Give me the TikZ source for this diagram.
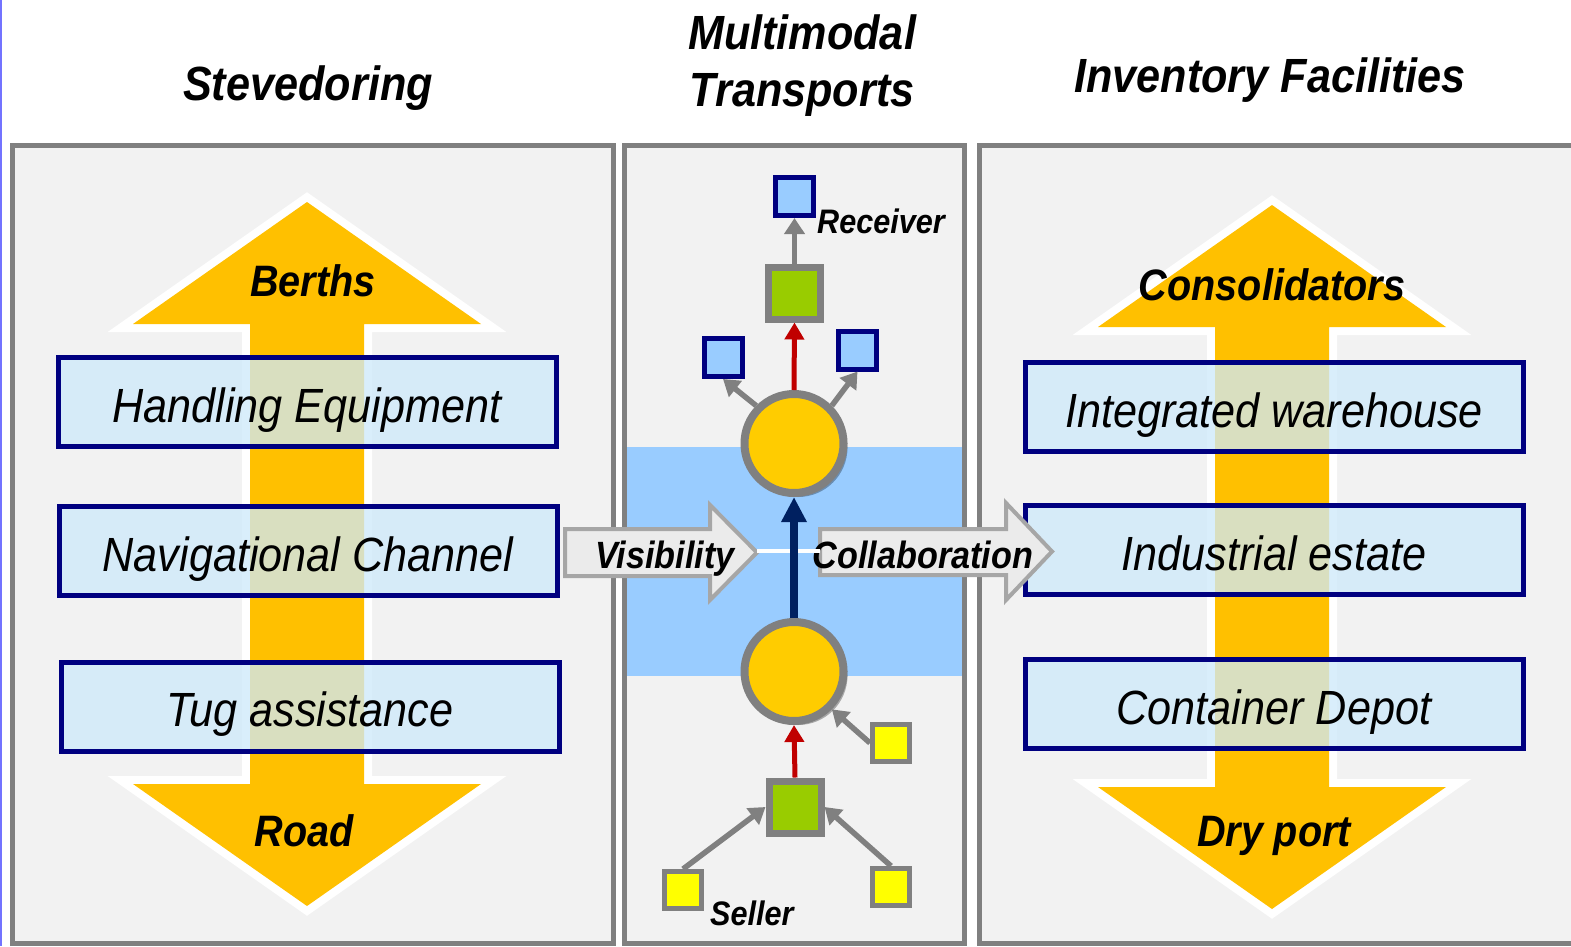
\documentclass[tikz,border=0pt]{standalone}
\usepackage{fontspec}
\newfontfamily\narrowsans{Liberation Sans}[FakeStretch=0.9]
\usetikzlibrary{arrows.meta, positioning, shadows}

\definecolor{panelfill}{HTML}{F2F2F2}
\definecolor{panelline}{HTML}{808080}
\definecolor{gold}{HTML}{FFC000}
\definecolor{discfill}{HTML}{FFCC00}
\definecolor{boxblue}{RGB}{206,233,250}
\definecolor{boxline}{HTML}{000080}
\definecolor{band}{HTML}{99CCFF}
\definecolor{leaf}{HTML}{99CC00}
\definecolor{lemon}{HTML}{FFFF00}
\definecolor{darkred}{HTML}{C00000}
\definecolor{deepnavy}{HTML}{002060}
\definecolor{flowfill}{HTML}{EBEBEB}
\definecolor{flowline}{HTML}{A6A6A6}

\begin{document}
\begin{tikzpicture}[
  x=1pt, y=-1pt,
  panel/.style={draw=panelline, line width=5pt, fill=panelfill},
  title/.style={font=\narrowsans\bfseries\itshape\fontsize{48}{57}\selectfont, anchor=base, align=center},
  tag/.style={font=\narrowsans\bfseries\itshape\fontsize{44}{50}\selectfont, anchor=base},
  note/.style={font=\narrowsans\bfseries\itshape\fontsize{34}{40}\selectfont, anchor=base west, inner sep=0pt},
  item/.style={draw=boxline, line width=5pt, fill=boxblue, fill opacity=0.77, text opacity=1, minimum width=498pt, minimum height=89pt, text height=40pt, text depth=0pt, inner sep=0pt, font=\narrowsans\itshape\fontsize{48}{54}\selectfont},
  hub/.style={circle, draw=panelline, line width=8pt, fill=discfill, minimum size=99pt, inner sep=0pt, drop shadow={opacity=0.3, shadow xshift=4pt, shadow yshift=-4pt, fill=black}},
  relay/.style={rectangle, draw=panelline, line width=7pt, fill=leaf, minimum size=52pt, inner sep=0pt},
  client/.style={rectangle, draw=boxline, line width=5pt, fill=band, minimum size=38pt, inner sep=0pt},
  supplier/.style={rectangle, draw=panelline, line width=5pt, fill=lemon, minimum size=37pt, inner sep=0pt},
  feed/.style={draw=panelline, line width=5.5pt, -{Triangle[width=20pt, length=16pt]}},
  push/.style={draw=darkred, line width=5pt, -{Triangle[width=19pt, length=17pt]}},
  flowshape/.style={draw=flowline, line width=4pt, fill=flowfill, line join=miter},
  flowtext/.style={font=\narrowsans\bfseries\itshape\fontsize{38}{44}\selectfont, anchor=base}
]
\useasboundingbox (0,0) rectangle (1571,946);
\fill[white] (0,0) rectangle (1571,946);
\draw[blue!55, line width=1.5pt] (0.75,0) -- (0.75,946);

% column titles
\node[title] (steve) at (308,100) {Stevedoring};
\node[title, anchor=center] (multi) at (802,66) {Multimodal\\Transports};
\node[title] (inven) at (1270,92) {Inventory Facilities};

% three panels
\draw[panel] (12.5,145.5) rectangle (613.5,943.5);
\draw[panel] (624.5,145.5) rectangle (964.5,943.5);
\draw[panel] (979.5,145.5) rectangle (1590,943.5);

% double headed arrows
\foreach \cx/\ty/\by in {307/202/906, 1272/205/909} {
  \filldraw[white, line width=16pt, line join=miter, drop shadow={opacity=0.2, shadow xshift=3pt, shadow yshift=-3pt, fill=black}]
    (\cx,\ty) -- ++(174,122) -- ++(-117,0) -- (\cx+57,\by-122) -- ++(117,0) -- (\cx,\by)
    -- ++(-174,-122) -- ++(117,0) -- (\cx-57,\ty+122) -- ++(-117,0) -- cycle;
  \fill[gold]
    (\cx,\ty) -- ++(174,122) -- ++(-117,0) -- (\cx+57,\by-122) -- ++(117,0) -- (\cx,\by)
    -- ++(-174,-122) -- ++(117,0) -- (\cx-57,\ty+122) -- ++(-117,0) -- cycle;
}
\node[tag] (berths) at (313,296) {Berths};
\node[tag] (road) at (304,846) {Road};
\node[tag] (consol) at (1272,300) {Consolidators};
\node[tag] (dryport) at (1274,846) {Dry port};

% stevedoring items
\node[item] (handling) at (307,402) {Handling Equipment};
\node[item] (channel) at (308,551) {Navigational Channel};
\node[item] (tug) at (310,706.5) {Tug assistance};

% inventory items
\node[item] (warehouse) at (1274,407) {Integrated warehouse};
\node[item] (estate) at (1274,550) {Industrial estate};
\node[item] (depot) at (1274,704) {Container Depot};

% multimodal network
\fill[band] (627,447) rectangle (962,676);

\node[hub] (upper) at (794,443.5) {};
\node[hub] (lower) at (794,671.5) {};
\node[relay] (gtop) at (794.5,293) {};
\node[relay] (gbot) at (795,807) {};
\node[client] (recv) at (794.5,196.5) {};
\node[client] (cleft) at (723,357.5) {};
\node[client] (cright) at (857.5,350) {};
\node[supplier] (sside) at (891,743) {};
\node[supplier] (sleft) at (683,890) {};
\node[supplier] (sright) at (891,887) {};

\node[note] (receiver) at (817,233) {Receiver};
\node[note] (seller) at (710,925) {Seller};

% visibility and collaboration block arrows
\filldraw[flowshape] (565,529) -- (710,529) -- (710,505) -- (757,552.5) -- (710,600) -- (710,576) -- (565,576) -- cycle;
\filldraw[flowshape] (820,529) -- (1006,529) -- (1006,503) -- (1052,551.5) -- (1006,600) -- (1006,575) -- (820,575) -- cycle;
\coordinate (vistip) at (757,550.5);
\coordinate (colltail) at (820,550.5);
\node[flowtext] (vis) at (665,568) {Visibility};
\node[flowtext] (collab) at (923,568) {Collaboration};

\draw[white, line width=4pt] (vistip) -- (colltail);

\draw[deepnavy, line width=8pt, -{Triangle[width=24pt, length=25pt]}] (lower.north) -- (upper.south);
\draw[push] (upper.north) -- (gtop.south);
\draw[push] (gbot.north) -- (lower.south);
\draw[feed] (gtop.north) -- (recv.south);
\draw[feed] (upper.135) -- (cleft.south);
\draw[feed] (upper.45) -- (cright.south);
\draw[feed] (sside.west) -- (lower.-45);
\draw[feed] (sleft.north) -- (gbot.west);
\draw[feed] (sright.north) -- (gbot.east);
\end{tikzpicture}
\end{document}
